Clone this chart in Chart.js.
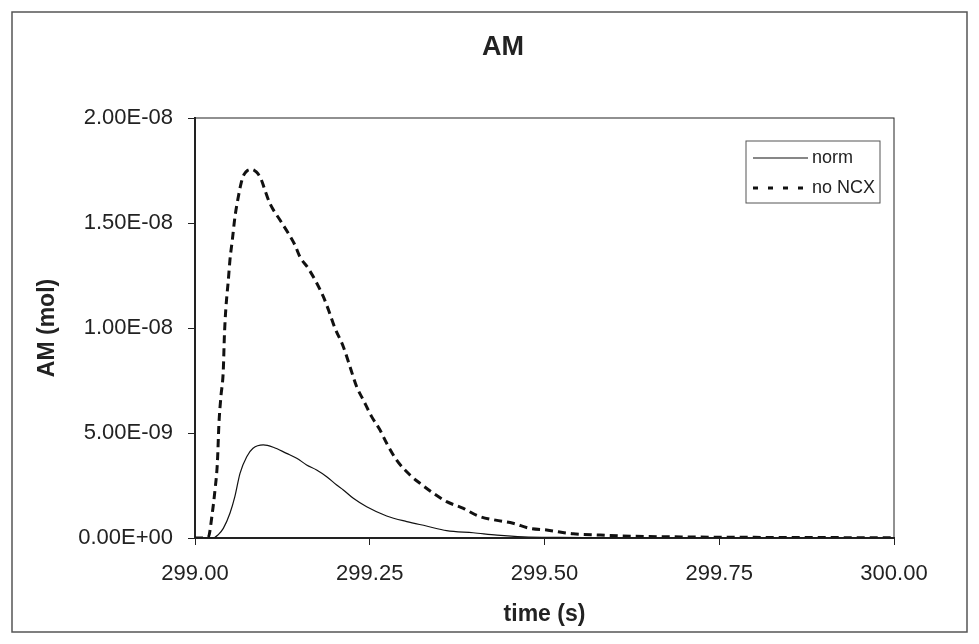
<!DOCTYPE html>
<html>
<head>
<meta charset="utf-8">
<script src="https://cdn.jsdelivr.net/npm/chart.js@4.4.1/dist/chart.umd.min.js"></script>
<style>
  html, body { margin: 0; padding: 0; background: #fff; }
  canvas { display: block; }
</style>
</head>
<body>
<canvas id="amChart" width="979" height="644"></canvas>
<script>
const titleText = "AM";
const xTitle = "time (s)";
const yTitle = "AM (mol)";

// tick labels
const xTicks = [299.00, 299.25, 299.50, 299.75, 300.00];
const yTicks = [0, 5e-9, 1e-8, 1.5e-8, 2e-8];

// series "norm"
const normLabel = "norm";
const normTime = [299.000, 299.020, 299.026, 299.033, 299.0405, 299.050, 299.057, 299.0644, 299.074, 299.083,
  299.0977, 299.112, 299.131, 299.1455, 299.1597, 299.174, 299.1884, 299.2027, 299.2122, 299.2265,
  299.2456, 299.2742, 299.303, 299.331, 299.360, 299.398, 299.432, 299.47, 299.52, 299.6,
  299.7, 299.8, 299.9, 300.0];
const normValues = [0, 0, 0, 0.15e-9, 0.46e-9, 1.18e-9, 1.97e-9, 3.08e-9, 3.87e-9, 4.27e-9,
  4.43e-9, 4.32e-9, 4.03e-9, 3.80e-9, 3.48e-9, 3.24e-9, 2.92e-9, 2.52e-9, 2.29e-9, 1.89e-9,
  1.49e-9, 1.05e-9, 0.78e-9, 0.57e-9, 0.35e-9, 0.25e-9, 0.14e-9, 0.06e-9, 0.03e-9, 0.01e-9,
  0, 0, 0, 0];

// series "no NCX"
const noNcxLabel = "no NCX";
const noNcxTime = [299.000, 299.012, 299.019, 299.025, 299.0286, 299.032, 299.0343, 299.037, 299.0405, 299.042,
  299.044, 299.0477, 299.050, 299.0534, 299.0572, 299.062, 299.066, 299.070, 299.075, 299.080,
  299.085, 299.090, 299.095, 299.100, 299.107, 299.1216, 299.1335, 299.143, 299.150, 299.162,
  299.1717, 299.1836, 299.191, 299.2003, 299.2122, 299.2217, 299.2313, 299.2408, 299.2527, 299.2647,
  299.2742, 299.2885, 299.3076, 299.322, 299.341, 299.360, 299.384, 299.405, 299.43, 299.455,
  299.479, 299.503, 299.541, 299.58, 299.608, 299.65, 299.7, 299.8, 299.9, 300.0];
const noNcxValues = [0, 0, 0.05e-9, 1.25e-9, 2.29e-9, 3.57e-9, 5.48e-9, 6.71e-9, 8.0e-9, 9.58e-9,
  10.86e-9, 12.29e-9, 13.24e-9, 14.19e-9, 15.3e-9, 16.25e-9, 16.9e-9, 17.3e-9, 17.5e-9, 17.55e-9,
  17.5e-9, 17.35e-9, 17.05e-9, 16.57e-9, 15.94e-9, 15.14e-9, 14.51e-9, 13.95e-9, 13.4e-9, 12.84e-9,
  12.29e-9, 11.49e-9, 10.86e-9, 9.99e-9, 9.11e-9, 8.16e-9, 7.2e-9, 6.57e-9, 5.78e-9, 5.14e-9,
  4.51e-9, 3.71e-9, 3.0e-9, 2.6e-9, 2.13e-9, 1.73e-9, 1.41e-9, 1.05e-9, 0.85e-9, 0.7e-9,
  0.46e-9, 0.38e-9, 0.2e-9, 0.14e-9, 0.1e-9, 0.07e-9, 0.05e-9, 0.03e-9, 0.02e-9, 0.01e-9];

const FONT = '"Liberation Sans", Arial, sans-serif';
const INK = "#222";

function toPoints(xs, ys) {
  return xs.map((x, i) => ({ x: x, y: ys[i] }));
}

// 2.00E-08 style labels
function sci(v) {
  const parts = v.toExponential(2).split("e");
  const exp = parseInt(parts[1], 10);
  const sign = exp < 0 ? "-" : "+";
  return parts[0] + "E" + sign + String(Math.abs(exp)).padStart(2, "0");
}

/* frame, plot box, title and the boxed legend inside the plot */
const decorPlugin = {
  id: "decor",
  beforeDraw(chart) {
    const ctx = chart.ctx;
    ctx.save();
    ctx.fillStyle = "#fff";
    ctx.fillRect(0, 0, chart.width, chart.height);
    ctx.restore();
  },
  afterDraw(chart) {
    const { ctx, chartArea: a } = chart;
    ctx.save();

    // outer frame
    ctx.strokeStyle = "#555";
    ctx.lineWidth = 1.5;
    ctx.strokeRect(12, 12, 955, 620);

    // plot box
    ctx.strokeStyle = INK;
    ctx.lineWidth = 1;
    ctx.strokeRect(a.left, a.top, a.right - a.left, a.bottom - a.top);

    // title
    ctx.fillStyle = INK;
    ctx.font = "bold 27px " + FONT;
    ctx.textAlign = "center";
    ctx.textBaseline = "middle";
    ctx.fillText(titleText, 503, 48);

    // legend
    const bx = a.right - 148, by = a.top + 23, bw = 134, bh = 62;
    ctx.fillStyle = "#fff";
    ctx.fillRect(bx, by, bw, bh);
    ctx.strokeStyle = "#555";
    ctx.lineWidth = 1;
    ctx.strokeRect(bx, by, bw, bh);
    ctx.font = "18px " + FONT;
    ctx.textAlign = "left";
    chart.data.datasets.forEach((ds, i) => {
      const y = by + 17 + i * 30;
      ctx.beginPath();
      ctx.strokeStyle = ds.borderColor;
      ctx.lineWidth = ds.borderWidth;
      ctx.setLineDash(ds.borderDash ? [5, 10] : []);
      ctx.moveTo(bx + 7, y);
      ctx.lineTo(bx + 62, y);
      ctx.stroke();
      ctx.setLineDash([]);
      ctx.fillStyle = INK;
      ctx.fillText(ds.label, bx + 66, y);
    });

    ctx.restore();
  }
};

new Chart(document.getElementById("amChart"), {
  type: "line",
  data: {
    datasets: [
      {
        label: normLabel,
        data: toPoints(normTime, normValues),
        borderColor: "#111",
        borderWidth: 1.2,
        pointRadius: 0,
        cubicInterpolationMode: "monotone",
        fill: false
      },
      {
        label: noNcxLabel,
        data: toPoints(noNcxTime, noNcxValues),
        borderColor: "#111",
        borderWidth: 3,
        borderDash: [8, 5],
        pointRadius: 0,
        cubicInterpolationMode: "monotone",
        fill: false
      }
    ]
  },
  options: {
    responsive: false,
    animation: false,
    layout: {
      padding: { top: 118, right: 85, bottom: 0, left: 0 }
    },
    plugins: {
      legend: { display: false },
      title: { display: false },
      tooltip: { enabled: false }
    },
    scales: {
      x: {
        type: "linear",
        min: 299,
        max: 300,
        afterBuildTicks: scale => { scale.ticks = xTicks.map(v => ({ value: v })); },
        afterFit: scale => { scale.height = 106; },
        grid: { drawOnChartArea: false, drawTicks: true, tickLength: 7, color: INK },
        border: { display: true, color: INK, width: 2 },
        ticks: {
          color: INK,
          padding: 16,
          maxRotation: 0,
          font: { family: FONT, size: 22 },
          callback: v => v.toFixed(2)
        },
        title: {
          display: true,
          text: xTitle,
          color: INK,
          font: { family: FONT, size: 23, weight: "bold" },
          padding: { top: 0, bottom: 16 }
        }
      },
      y: {
        type: "linear",
        min: 0,
        max: 2e-8,
        afterBuildTicks: scale => { scale.ticks = yTicks.map(v => ({ value: v })); },
        afterFit: scale => { scale.width = 195; },
        grid: { drawOnChartArea: false, drawTicks: true, tickLength: 7, color: INK },
        border: { display: true, color: INK, width: 2 },
        ticks: {
          color: INK,
          padding: 15,
          font: { family: FONT, size: 22 },
          callback: v => sci(v)
        },
        title: {
          display: true,
          text: yTitle,
          color: INK,
          font: { family: FONT, size: 23, weight: "bold" },
          padding: { top: 34, bottom: 0 }
        }
      }
    }
  },
  plugins: [decorPlugin]
});
</script>
</body>
</html>
